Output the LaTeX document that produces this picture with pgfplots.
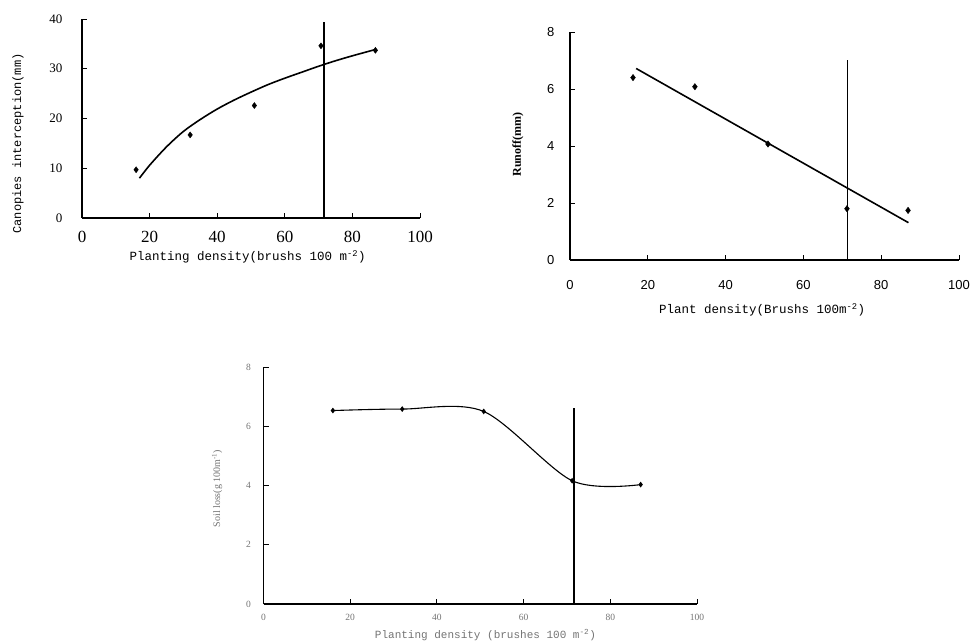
\documentclass[border=0pt]{standalone}
\usepackage{fontspec}
\setmainfont{Liberation Serif}
\setsansfont{Liberation Sans}
\setmonofont{Liberation Mono}
\usepackage{pgfplots}
\pgfplotsset{compat=1.18}
\begin{document}
\begin{tikzpicture}
\path[use as bounding box] (0,0) rectangle (971pt,644pt);
\pgfplotsset{
  common/.style={
    anchor=south west, scale only axis, clip=false,
    axis lines=left, axis line style={-, line width=1.1pt, black},
    tick align=inside, major tick length=5pt,
    tick style={line width=0.9pt, black},
    xmin=0, xmax=100, xtick={0,20,...,100},
    /pgf/number format/assume math mode=true,
  }
}
% ---------- Plot 1 ----------
\begin{axis}[common,
  at={(82pt,426pt)}, width=338pt, height=199pt,
  ymin=0, ymax=40, ytick={0,10,...,40},
  xticklabel style={font=\fontsize{17}{17}\selectfont, yshift=-10pt},
  yticklabel style={font=\fontsize{13}{13}\selectfont, xshift=-16pt},
  xlabel={Planting density(brushs 100 m\textsuperscript{-2})},
  xlabel style={at={(axis description cs:0.49,-0.196)}, anchor=center, font=\ttfamily\fontsize{12.5}{13}\selectfont},
  ylabel={Canopies interception(mm)},
  ylabel style={at={(axis description cs:-0.189,0.374)}, anchor=center, rotate=0, font=\ttfamily\fontsize{12}{13}\selectfont},
]
\addplot[only marks, mark=diamond*, mark size=3pt, black] coordinates {
  (16,9.7) (32,16.7) (51,22.6) (70.7,34.6) (86.8,33.7)
};
\addplot[line width=1.6pt, black, smooth] coordinates {
  (17,8.0) (20,10.6) (25,14.3) (30,17.4) (35,19.8) (40,21.9) (45,23.7)
  (50,25.3) (55,26.8) (60,28.1) (65,29.3) (70,30.5) (75,31.6) (80,32.6) (87,33.9)
};
\addplot[line width=1.4pt, black] coordinates {(71.6,0) (71.6,39.4)};
\end{axis}
% ---------- Plot 2 ----------
\begin{axis}[common,
  at={(570pt,384pt)}, width=389pt, height=228pt,
  ymin=0, ymax=8, ytick={0,2,...,8},
  ticklabel style={font=\sffamily\fontsize{13}{13}\selectfont},
  xticklabel style={yshift=-17pt},
  yticklabel style={xshift=-12pt},
  xlabel={Plant density(Brushs 100m\textsuperscript{-2})},
  xlabel style={at={(axis description cs:0.494,-0.219)}, anchor=center, font=\ttfamily\fontsize{12.5}{13}\selectfont},
  ylabel={Runoff(mm)},
  ylabel style={at={(axis description cs:-0.134,0.507)}, anchor=center, rotate=0, font=\bfseries\fontsize{12}{13}\selectfont},
]
\addplot[only marks, mark=diamond*, mark size=3.2pt, black] coordinates {
  (16.2,6.4) (32.1,6.08) (50.9,4.07) (71.2,1.8) (86.9,1.74)
};
\addplot[line width=1.6pt, black] coordinates {(17,6.72) (87,1.31)};
\addplot[line width=1.2pt, black] coordinates {(71.4,0) (71.4,7.0)};
\end{axis}
% ---------- Plot 3 ----------
\begin{axis}[common,
  at={(263.5pt,40pt)}, width=433.5pt, height=237pt,
  ymin=0, ymax=8, ytick={0,2,...,8},
  ticklabel style={font=\fontsize{9.5}{10}\selectfont, text=black!55},
  xticklabel style={yshift=-7pt},
  yticklabel style={xshift=-9pt},
  xlabel={Planting density (brushes 100 m\textsuperscript{-2})},
  xlabel style={at={(axis description cs:0.512,-0.131)}, anchor=center, text=black!55, font=\ttfamily\fontsize{11}{12}\selectfont},
  ylabel={Soil loss(g 100m\textsuperscript{-1})},
  ylabel style={at={(axis description cs:-0.107,0.487)}, anchor=center, rotate=0, text=black!55, font=\fontsize{10}{11}\selectfont},
]
\addplot[line width=1.1pt, black, smooth, mark=diamond*, mark size=2pt] coordinates {
  (16,6.53) (32,6.58) (50.8,6.5) (71.2,4.16) (87,4.03)
};
\addplot[line width=1.3pt, black] coordinates {(71.6,0) (71.6,6.6)};
\end{axis}
\end{tikzpicture}
\end{document}
